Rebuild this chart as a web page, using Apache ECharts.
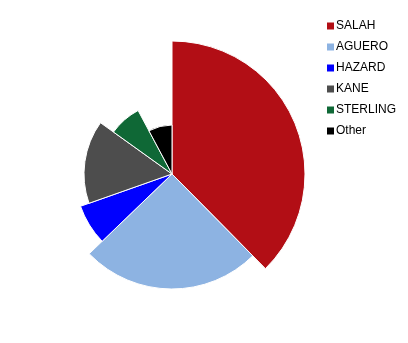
<!DOCTYPE html>
<html>
<head>
<meta charset="utf-8">
<script src="https://cdn.jsdelivr.net/npm/echarts@6/dist/echarts.min.js"></script>
<style>html,body{margin:0;padding:0;background:#fff;}#c{width:408px;height:343px;}</style>
</head>
<body>
<div id="c"></div>
<script>
// Data
const players = ['SALAH', 'AGUERO', 'HAZARD', 'KANE', 'STERLING', 'Other'];
const shares = [37.6, 25.2, 6.8, 15.3, 7.3, 7.8];      // angular share (%)
const radiusValues = [133, 115, 97, 88, 72, 49];        // radial value
const colors = ['#B20E15', '#8DB3E2', '#0000FF', '#4D4D4D', '#0F6836', '#000000'];

const chart = echarts.init(document.getElementById('c'), null, {renderer: 'canvas'});

const totalShare = shares.reduce((a, b) => a + b, 0);
let cum = 0;
const series = players.map((name, i) => {
  const start = cum;
  cum += shares[i];
  return {
    type: 'custom',
    name: name,
    coordinateSystem: 'polar',
    color: colors[i],
    dimensions: ['radius', 'start', 'end'],
    encode: {radius: 0, angle: 1},
    data: [[radiusValues[i], start, cum]],
    renderItem: function (params, api) {
      const cs = params.coordSys;
      const p0 = api.coord([api.value(0), api.value(1)]);
      const p1 = api.coord([api.value(0), api.value(2)]);
      const r = Math.hypot(p0[0] - cs.cx, p0[1] - cs.cy);
      let a0 = Math.atan2(p0[1] - cs.cy, p0[0] - cs.cx);
      let a1 = Math.atan2(p1[1] - cs.cy, p1[0] - cs.cx);
      while (a1 <= a0 + 1e-9) a1 += Math.PI * 2;
      return {
        type: 'sector',
        shape: {cx: cs.cx, cy: cs.cy, r0: 0, r: r, startAngle: a0, endAngle: a1, clockwise: true},
        style: {fill: colors[i], stroke: '#ffffff', lineWidth: 1}
      };
    }
  };
});

chart.setOption({
  animation: false,
  backgroundColor: '#ffffff',
  polar: {center: [172, 174], radius: 133},
  angleAxis: {
    type: 'value', min: 0, max: totalShare, startAngle: 90, clockwise: true,
    show: false
  },
  radiusAxis: {
    type: 'value', min: 0, max: Math.max(...radiusValues), show: false
  },
  legend: {
    orient: 'vertical',
    left: 322,
    top: 15,
    icon: 'rect',
    itemWidth: 7,
    itemHeight: 7,
    itemGap: 9,
    data: players,
    textStyle: {fontFamily: 'Liberation Sans, Arial, sans-serif', fontSize: 12, color: '#000000', padding: [0, 0, 0, -3]}
  },
  series: series
});
</script>
</body>
</html>
